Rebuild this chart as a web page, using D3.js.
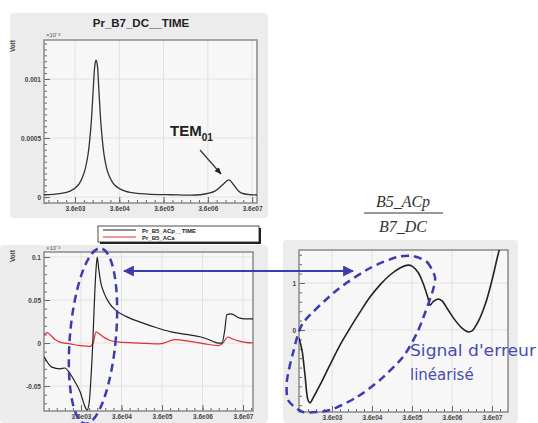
<!DOCTYPE html>
<html><head><meta charset="utf-8">
<script src="https://cdn.jsdelivr.net/npm/d3@7"></script>
<style>body{margin:0;background:#fff}svg{display:block;font-family:"Liberation Sans",Arial,sans-serif}</style>
</head><body>
<svg id="c" width="538" height="423"></svg>
<script>
// ---- data (x = log10 of time) ----
const xTickExp = [3, 4, 5, 6, 7];
const xTickLabels = ["3.6e03", "3.6e04", "3.6e05", "3.6e06", "3.6e07"];

const topX = [2.30,2.66,2.89,3.07,3.20,3.29,3.36,3.41,3.45,3.475,3.50,3.54,3.59,3.66,3.75,3.90,4.13,4.47,5.15,5.83,6.16,6.32,6.48,6.59,6.73,6.96,7.11];
const topY = [0.00002,0.00003,0.00005,0.0001,0.0002,0.00035,0.0006,0.0009,0.00112,0.00116,0.00113,0.0009,0.0006,0.00035,0.0002,0.0001,0.00005,0.00003,0.00002,0.00002,0.00005,0.0001,0.000145,0.0001,0.00004,0.00002,0.00002];
const topYTicks = [0, 0.0005, 0.001];
const topYLabels = ["0", "0.0005", "0.001"];

const acpX = [2.09,2.28,2.48,2.60,2.72,2.85,2.98,3.10,3.15,3.20,3.27,3.37,3.40,3.44,3.49,3.57,3.69,3.86,4.11,4.48,4.85,5.22,5.59,5.96,6.21,6.38,6.48,6.55,6.60,6.70,6.92,7.12,7.25];
const acpY = [-0.016,-0.028,-0.030,-0.029,-0.035,-0.045,-0.057,-0.074,-0.078,-0.070,-0.02,0.085,0.100,0.085,0.070,0.058,0.047,0.038,0.031,0.024,0.018,0.013,0.010,0.007,0.003,0.000,0.000,0.015,0.033,0.034,0.029,0.028,0.028];
const acaX = [2.09,2.16,2.23,2.36,2.48,2.73,2.98,3.22,3.30,3.37,3.47,3.59,3.72,3.96,4.46,4.95,5.32,5.69,6.06,6.38,6.48,6.63,6.73,6.93,7.25];
const acaY = [0.009,0.012,0.010,0.004,0.001,-0.001,-0.003,-0.004,0.000,0.013,0.010,0.006,0.003,0.001,0.000,-0.001,0.004,0.002,-0.001,-0.003,-0.001,0.007,0.005,0.002,0.000];
const blYTicks = [-0.05, 0, 0.05, 0.1];
const blYLabels = ["-0.05", "0", "0.05", "0.1"];

const ratioX = [2.175,2.25,2.325,2.40,2.45,2.525,2.70,2.95,3.20,3.45,3.70,3.95,4.20,4.45,4.70,4.90,5.00,5.15,5.275,5.40,5.45,5.525,5.65,5.75,5.90,6.075,6.25,6.40,6.50,6.65,6.825,7.00,7.15,7.25];
const ratioY = [-0.17,-0.43,-0.96,-1.49,-1.55,-1.45,-1.17,-0.74,-0.32,0.04,0.38,0.70,0.96,1.17,1.32,1.38,1.36,1.23,1.0,0.68,0.53,0.60,0.66,0.62,0.43,0.21,0.04,-0.04,-0.02,0.17,0.53,1.06,1.60,1.91];
const ratioYTicks = [0, 1];
const ratioYLabels = ["0", "1"];

const legendLabels = ["Pr_B5_ACp__TIME", "Pr_B5_ACa"];
const legendColors = ["#222", "#e03030"];

// ---- drawing ----
const svg = d3.select("#c");
const BLUE = "#3c3cae";

svg.append("defs").html(`
 <marker id="ab" viewBox="0 0 10 10" refX="9" refY="5" markerWidth="5" markerHeight="5" orient="auto-start-reverse"><path d="M0,0L10,5L0,10z" fill="${BLUE}"/></marker>
 <marker id="ak" viewBox="0 0 10 10" refX="9" refY="5" markerWidth="6" markerHeight="6" orient="auto"><path d="M0,1L10,5L0,9z" fill="#222"/></marker>
 <clipPath id="cpTop"><rect x="44" y="40" width="213" height="163"/></clipPath>
 <clipPath id="cpBL"><rect x="44" y="252" width="209" height="159"/></clipPath>
 <clipPath id="cpBR"><rect x="299" y="250" width="209" height="162"/></clipPath>
`);

function panel(o){
  svg.append("rect").attr("x",o.bg[0]).attr("y",o.bg[1]).attr("width",o.bg[2]).attr("height",o.bg[3])
     .attr("fill","#ececec").attr("rx",4);
  svg.append("rect").attr("x",o.x0).attr("y",o.y0).attr("width",o.x1-o.x0).attr("height",o.y1-o.y0)
     .attr("fill","#f7f7f7");
  const x = d3.scaleLinear().domain(o.xd).range([o.x0,o.x1]);
  const y = d3.scaleLinear().domain(o.yd).range([o.y1,o.y0]);
  const g = svg.append("g");
  g.selectAll(".gx").data(xTickExp).join("line").attr("x1",d=>x(d)).attr("x2",d=>x(d))
    .attr("y1",o.y0).attr("y2",o.y1).attr("stroke","#e2e2e2").attr("stroke-width",1);
  g.selectAll(".gy").data(o.yt).join("line").attr("y1",d=>y(d)).attr("y2",d=>y(d))
    .attr("x1",o.x0).attr("x2",o.x1).attr("stroke","#e2e2e2").attr("stroke-width",1);
  const ax = d3.axisBottom(x).tickValues(xTickExp).tickSize(-6).tickPadding(3)
    .tickFormat((d,i)=>xTickLabels[i]);
  const axg = svg.append("g").attr("transform",`translate(0,${o.y1})`).call(ax);
  const axm = d3.axisBottom(x).tickValues(d3.range(Math.ceil(o.xd[0]*5)/5, o.xd[1], 0.2)).tickSize(-3).tickFormat("");
  svg.append("g").attr("transform",`translate(0,${o.y1})`).call(axm).select(".domain").remove();
  const ay = d3.axisLeft(y).tickValues(o.yt).tickSize(-6).tickPadding(3).tickFormat((d,i)=>o.yl[i]);
  const ayg = svg.append("g").attr("transform",`translate(${o.x0},0)`).call(ay);
  const aym = d3.axisLeft(y).ticks(o.minor).tickSize(-3).tickFormat("");
  svg.append("g").attr("transform",`translate(${o.x0},0)`).call(aym).select(".domain").remove();
  svg.selectAll(".tick line").attr("stroke","#666");
  [axg,ayg].forEach(a=>{a.select(".domain").remove();
    a.selectAll("text").attr("font-size",6.5).attr("font-weight","bold").attr("fill","#444")
     .attr("font-family","Liberation Sans, Arial");});
  svg.append("rect").attr("x",o.x0).attr("y",o.y0).attr("width",o.x1-o.x0).attr("height",o.y1-o.y0)
     .attr("fill","none").attr("stroke","#8a8a8a").attr("stroke-width",1.5);
  return {x,y};
}

// top panel
const T = panel({bg:[10,13,258,205],x0:44,x1:257,y0:40,y1:203,xd:[2.30,7.11],yd:[-0.00005,0.00133],
  yt:topYTicks,yl:topYLabels,minor:26});
svg.append("path").datum(d3.zip(topX,topY)).attr("clip-path","url(#cpTop)")
  .attr("d",d3.line().x(d=>T.x(d[0])).y(d=>T.y(d[1])).curve(d3.curveCatmullRom))
  .attr("fill","none").attr("stroke","#333").attr("stroke-width",1.3);
svg.append("text").attr("x",141).attr("y",27).attr("text-anchor","middle").attr("font-size",11.5)
  .attr("font-weight","bold").attr("fill","#222").text("Pr_B7_DC__TIME");
svg.append("text").attr("x",46).attr("y",37).attr("font-size",6).attr("fill","#555").text("×10⁻³");
svg.append("text").attr("transform","translate(15,52) rotate(-90)").attr("font-size",6.5)
  .attr("font-weight","bold").attr("fill","#444").text("Volt");
const tem = svg.append("text").attr("x",170).attr("y",136).attr("font-size",15).attr("font-weight","bold").attr("fill","#222");
tem.append("tspan").text("TEM");
tem.append("tspan").attr("dy",5).attr("font-size",10).text("01");
svg.append("line").attr("x1",200).attr("y1",150).attr("x2",221).attr("y2",174)
  .attr("stroke","#333").attr("stroke-width",1.2).attr("marker-end","url(#ak)");

// bottom-left panel
const L = panel({bg:[0,245,268,178],x0:44,x1:253,y0:252,y1:411,xd:[2.086,7.247],yd:[-0.079,0.1058],
  yt:blYTicks,yl:blYLabels,minor:18});
const line2 = d3.line().x(d=>L.x(d[0])).y(d=>L.y(d[1])).curve(d3.curveMonotoneX);
svg.append("path").datum(d3.zip(acaX,acaY)).attr("clip-path","url(#cpBL)").attr("d",line2)
  .attr("fill","none").attr("stroke",legendColors[1]).attr("stroke-width",1.2);
svg.append("path").datum(d3.zip(acpX,acpY)).attr("clip-path","url(#cpBL)").attr("d",line2)
  .attr("fill","none").attr("stroke",legendColors[0]).attr("stroke-width",1.2);
svg.append("text").attr("x",46).attr("y",250).attr("font-size",6).attr("fill","#555").text("×10⁻³");
svg.append("text").attr("transform","translate(15,262) rotate(-90)").attr("font-size",6.5)
  .attr("font-weight","bold").attr("fill","#444").text("Volt");
// legend
svg.append("rect").attr("x",100).attr("y",228).attr("width",161).attr("height",16).attr("fill","#222");
svg.append("rect").attr("x",98).attr("y",226).attr("width",161).attr("height",16).attr("fill","#fff")
  .attr("stroke","#222").attr("stroke-width",0.8);
legendLabels.forEach((t,i)=>{
  svg.append("line").attr("x1",103).attr("x2",136).attr("y1",230+i*7).attr("y2",230+i*7)
    .attr("stroke",legendColors[i]).attr("stroke-width",1);
  svg.append("text").attr("x",142).attr("y",233+i*7).attr("font-size",6).attr("font-weight","bold")
    .attr("fill","#222").text(t);
});

// bottom-right panel
const R = panel({bg:[283,240,235,183],x0:299,x1:508,y0:250,y1:412,xd:[2.175,7.4],yd:[-1.745,1.702],
  yt:ratioYTicks,yl:ratioYLabels,minor:14});
svg.append("path").datum(d3.zip(ratioX,ratioY)).attr("clip-path","url(#cpBR)")
  .attr("d",d3.line().x(d=>R.x(d[0])).y(d=>R.y(d[1])).curve(d3.curveCatmullRom))
  .attr("fill","none").attr("stroke","#222").attr("stroke-width",1.6);

// fraction title
const fs = svg.append("g").attr("font-family","Liberation Serif, Times New Roman, serif")
  .attr("font-style","italic").attr("font-size",16).attr("fill","#333").attr("text-anchor","middle");
fs.append("text").attr("x",403).attr("y",207).text("B5_ACp");
fs.append("text").attr("x",403).attr("y",232).text("B7_DC");
svg.append("line").attr("x1",364).attr("x2",443).attr("y1",213).attr("y2",213).attr("stroke","#333").attr("stroke-width",1);

// annotations
svg.append("ellipse").attr("cx",93).attr("cy",336).attr("rx",23).attr("ry",88)
  .attr("transform","rotate(5,93,336)").attr("fill","none").attr("stroke",BLUE)
  .attr("stroke-width",2.5).attr("stroke-dasharray","8,5");
const ellPts = [[413,256],[427,262],[435,277],[433,290],[425,313],[417,333],[403,357],[380,380],[357,397],[330,410],[303,412],[288,400],[287,380],[293,353],[303,323],[337,290],[370,268],[397,257]];
svg.append("path").datum(ellPts).attr("d",d3.line().curve(d3.curveCardinalClosed.tension(0.3)))
  .attr("fill","none").attr("stroke",BLUE).attr("stroke-width",2.5).attr("stroke-dasharray","8,5");
svg.append("line").attr("x1",124).attr("x2",353).attr("y1",271).attr("y2",271)
  .attr("stroke",BLUE).attr("stroke-width",2.2)
  .attr("marker-start","url(#ab)").attr("marker-end","url(#ab)");
const sg = svg.append("g").attr("font-family","DejaVu Sans, sans-serif").attr("font-size",15).attr("fill","#4a4ab4");
sg.append("text").attr("x",410).attr("y",356).attr("textLength",126).attr("lengthAdjust","spacingAndGlyphs").text("Signal d'erreur");
sg.append("text").attr("x",410).attr("y",380).text("linéarisé");
</script>
</body></html>
